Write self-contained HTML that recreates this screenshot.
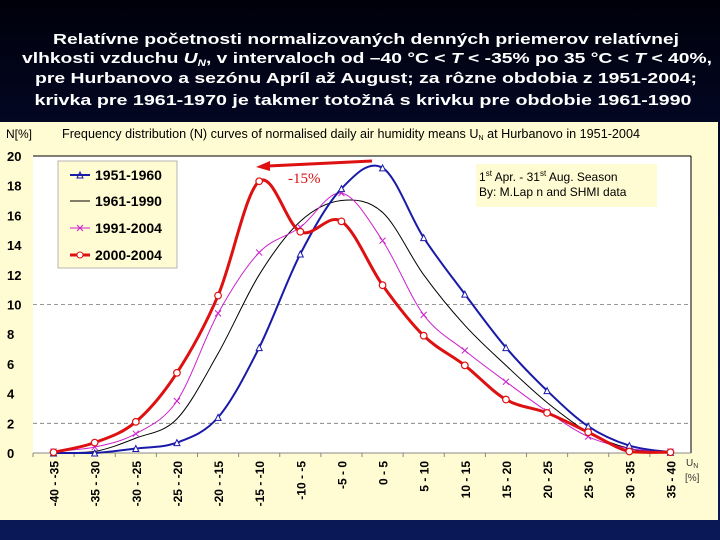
<!DOCTYPE html>
<html><head><meta charset="utf-8"><style>
html,body{margin:0;padding:0;background:#000820;}
svg{display:block;font-family:"Liberation Sans",sans-serif;}
</style></head><body>
<svg id="c" width="720" height="540" viewBox="0 0 720 540">
<defs>
<linearGradient id="bg" x1="0" y1="0" x2="0" y2="1"><stop offset="0" stop-color="#00000a"/><stop offset="0.5" stop-color="#061040"/><stop offset="1" stop-color="#0a1858"/></linearGradient>
</defs>
<rect width="720" height="540" fill="url(#bg)"/>
<g fill="#fff" font-weight="bold" font-size="15" text-anchor="middle">
<text x="366" y="44" textLength="626" lengthAdjust="spacingAndGlyphs">Relatívne početnosti normalizovaných denných priemerov relatívnej</text>
<text x="367" y="63" textLength="690" lengthAdjust="spacingAndGlyphs">vlhkosti vzduchu <tspan font-style="italic">U<tspan font-size="9" dy="3">N</tspan></tspan><tspan dy="-3">, v intervaloch od –40 °C &lt; </tspan><tspan font-style="italic">T</tspan> &lt; -35% po 35 °C &lt; <tspan font-style="italic">T</tspan> &lt; 40%,</text>
<text x="366" y="83" textLength="662" lengthAdjust="spacingAndGlyphs">pre Hurbanovo a sezónu Apríl až August; za rôzne obdobia z 1951-2004;</text>
<text x="363" y="105" textLength="657" lengthAdjust="spacingAndGlyphs">krivka pre 1961-1970 je takmer totožná s krivku pre obdobie 1961-1990</text>
</g>
<rect x="0" y="122" width="718" height="398" fill="#fffbd2"/>
<text x="6" y="138" font-size="12" fill="#000">N[%]</text>
<text x="62" y="138" font-size="12.5" fill="#000" textLength="578" lengthAdjust="spacingAndGlyphs">Frequency distribution (N) curves of normalised daily air humidity means U<tspan font-size="7" dy="2">N</tspan><tspan dy="-2"> at Hurbanovo in 1951-2004</tspan></text>
<rect x="33" y="156" width="658" height="297" fill="#fff"/>
<line x1="33" y1="156" x2="691" y2="156" stroke="#000" stroke-width="1"/>
<line x1="691" y1="156" x2="691" y2="453" stroke="#000" stroke-width="1"/>
<g id="grid"></g><g id="axes"></g><g id="series"></g>
<g>
<rect x="58" y="161" width="119" height="107" fill="#fffbd2" stroke="#999" stroke-width="0.7"/>
<g font-size="14" font-weight="bold" fill="#000">
<line x1="70" y1="175" x2="90" y2="175" stroke="#1a1aa8" stroke-width="2"/><path d="M77 178 L80 172 L83 178Z" fill="none" stroke="#1a1aa8"/>
<text x="95" y="180">1951-1960</text>
<line x1="70" y1="201" x2="90" y2="201" stroke="#000" stroke-width="1"/>
<text x="95" y="206">1961-1990</text>
<line x1="70" y1="228" x2="90" y2="228" stroke="#cc22cc" stroke-width="1"/><path d="M77 225 L83 231 M83 225 L77 231" stroke="#cc22cc"/>
<text x="95" y="233">1991-2004</text>
<line x1="70" y1="255" x2="90" y2="255" stroke="#dd1111" stroke-width="3"/><circle cx="80" cy="255" r="3" fill="#fff" stroke="#dd1111"/>
<text x="95" y="260">2000-2004</text>
</g></g>
<g>
<rect x="476" y="164" width="181" height="43" fill="#fffbd2"/>
<text x="479" y="181" font-size="12">1<tspan font-size="8" dy="-5">st</tspan><tspan dy="5"> Apr. - 31</tspan><tspan font-size="8" dy="-5">st</tspan><tspan dy="5"> Aug. Season</tspan></text>
<text x="479" y="196" font-size="12">By: M.Lap n and SHMI data</text>
</g>
<g>
<path d="M372 161 L268 166" stroke="#dd1111" stroke-width="3"/>
<path d="M256 167 L270 161 L270 171Z" fill="#dd1111"/>
<text x="288" y="183" font-family="Liberation Serif,serif" font-size="15" fill="#dd1111">-15%</text>
</g>
<text x="686" y="466" font-size="10" fill="#333">U<tspan font-size="7" dy="2">N</tspan></text>
<text x="685" y="481" font-size="10" fill="#333">[%]</text>
</svg>
<script>
const categories=["-40 - -35","-35 - -30","-30 - -25","-25 - -20","-20 - -15","-15 - -10","-10 - -5","-5 - 0","0 - 5","5 - 10","10 - 15","15 - 20","20 - 25","25 - 30","30 - 35","35 - 40"];
const yTicks=[0,2,4,6,8,10,12,14,16,18,20];
const s1951=[0,0,0.3,0.7,2.4,7.1,13.4,17.8,19.2,14.5,10.7,7.1,4.2,1.8,0.5,0.05];
const s1961=[0,0.1,1.0,2.3,6.7,12.0,15.6,17.0,16.2,12.0,8.6,5.9,3.4,1.4,0.3,0.02];
const s1991=[0.1,0.4,1.3,3.5,9.4,13.5,15.2,17.5,14.3,9.3,6.9,4.8,2.8,1.1,0.3,0.1];
const s2000=[0.05,0.7,2.1,5.4,10.6,18.3,14.9,15.6,11.3,7.9,5.9,3.6,2.7,1.4,0.1,0.05];
const NS="http://www.w3.org/2000/svg";
const L=33,R=691,T=156,B=453,YMAX=20;
const band=(R-L)/categories.length;
const xs=i=>L+band*(i+0.5);
const ys=v=>B-(v/YMAX)*(B-T);
function mk(tag,attrs,parent){const e=document.createElementNS(NS,tag);for(const k in attrs)e.setAttribute(k,attrs[k]);parent.appendChild(e);return e;}
const grid=document.getElementById('grid'),axes=document.getElementById('axes'),ser=document.getElementById('series');
[10,2].forEach(v=>{const g=mk('line',{x1:L,x2:R,y1:ys(v),y2:ys(v),stroke:'#777','stroke-width':0.8,'stroke-dasharray':'4,3'},grid);

});
mk('line',{x1:L,x2:R,y1:B,y2:B,stroke:'#888','stroke-width':1},axes);
yTicks.forEach(v=>{const t=mk('text',{x:7,y:ys(v)+5,'font-size':13,'font-weight':'bold',fill:'#000'},axes);t.textContent=v;

});
categories.forEach((c,i)=>{
mk('line',{x1:L+band*i,x2:L+band*i,y1:B,y2:B+4,stroke:'#888'},axes);
const x=xs(i);const t=mk('text',{x:x+5,y:B+8,'font-size':12,'font-weight':'bold',fill:'#000','text-anchor':'end',transform:`rotate(-90 ${x+5} ${B+8})`},axes);
t.textContent=c;

});
function smooth(pts){let d=`M${pts[0][0]},${pts[0][1]}`;for(let i=0;i<pts.length-1;i++){const p0=pts[i-1]||pts[i],p1=pts[i],p2=pts[i+1],p3=pts[i+2]||p2;const k=6;
let c1y=p1[1]+(p2[1]-p0[1])/k,c2y=p2[1]-(p3[1]-p1[1])/k;c1y=Math.min(c1y,B);c2y=Math.min(c2y,B);
d+=` C${p1[0]+(p2[0]-p0[0])/k},${c1y} ${p2[0]-(p3[0]-p1[0])/k},${c2y} ${p2[0]},${p2[1]}`;}return d;}
function draw(data,name,color,w,marker){const g=mk('g',{},ser);


const pts=data.map((v,i)=>[xs(i),ys(v)]);
mk('path',{d:smooth(pts),fill:'none',stroke:color,'stroke-width':w},g);
pts.forEach(([x,y])=>{let m;
if(marker==='tri')m=mk('path',{d:`M${x-3},${y+3} L${x},${y-3} L${x+3},${y+3}Z`,fill:'#fff',stroke:color},g);
else if(marker==='x')m=mk('path',{d:`M${x-3},${y-3} L${x+3},${y+3} M${x+3},${y-3} L${x-3},${y+3}`,stroke:color},g);
else if(marker==='o')m=mk('circle',{cx:x,cy:y,r:3.3,fill:'#fff',stroke:color,'stroke-width':1.2},g);
if(m){
}});}
draw(s1961,'1961-1990','#000',1,null);
draw(s1991,'1991-2004','#cc22cc',1,'x');
draw(s1951,'1951-1960','#1a1aa8',2,'tri');
draw(s2000,'2000-2004','#dd1111',3,'o');
</script>
</body></html>
